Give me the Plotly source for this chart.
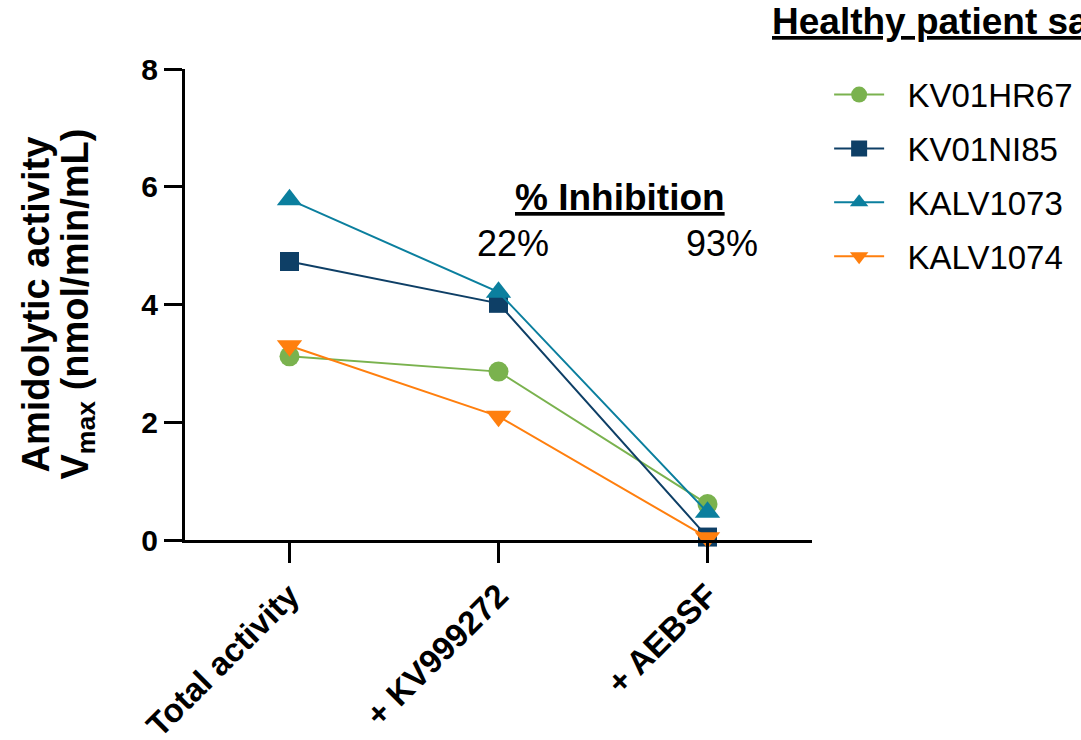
import plotly.graph_objects as go

categories = ["Total activity", "+ KV999272", "+ AEBSF"]
series_names = ["KV01HR67", "KV01NI85", "KALV1073", "KALV1074"]
kv01hr67 = [3.12, 2.86, 0.61]
kv01ni85 = [4.73, 4.02, 0.05]
kalv1073 = [5.78, 4.21, 0.47]
kalv1074 = [3.30, 2.10, 0.04]
inhibition_labels = ["22%", "93%"]

series_values = [kv01hr67, kv01ni85, kalv1073, kalv1074]
colors = ["#7ab24e", "#0e3f66", "#0b7f9e", "#ff7f0e"]
symbols = ["circle", "square", "triangle-up", "triangle-down"]
sizes = [20, 19, 22, 22]

FONT = "Arial, Liberation Sans, Helvetica, sans-serif"
xidx = list(range(len(categories)))

L, R, T, B = 185, 269, 69, 200
PW, PH = 1081 - L - R, 740 - T - B

def px_x(p):
    return (p - L) / PW

def px_y(p):
    return (740 - B - p) / PH

fig = go.Figure()
for i, (name, vals) in enumerate(zip(series_names, series_values)):
    fig.add_trace(go.Scatter(
        x=xidx, y=vals, name="\u00a0\u00a0" + name, mode="lines+markers",
        line=dict(color=colors[i], width=2),
        marker=dict(symbol=symbols[i], size=sizes[i], color=colors[i], line=dict(width=0)),
        cliponaxis=False, legendgroup=name,
    ))

fig.update_layout(
    width=1081, height=740,
    margin=dict(l=L, r=R, t=T, b=B, autoexpand=False),
    paper_bgcolor="white", plot_bgcolor="white",
    font=dict(family=FONT, color="black"),
    showlegend=True,
    legend=dict(
        xref="container", yref="container",
        x=0.767, y=0.910, xanchor="left", yanchor="top",
        font=dict(size=33, family=FONT, color="black"),
        itemwidth=50, tracegroupgap=8,
        bgcolor="rgba(0,0,0,0)",
    ),
    xaxis=dict(
        range=[-0.5, 2.5], automargin=False,
        tickmode="array", tickvals=xidx, ticktext=categories,
        tickangle=-45,
        tickfont=dict(size=33, family=FONT, color="black", weight="bold"),
        showline=True, linecolor="black", linewidth=3,
        ticks="outside", ticklen=20, tickwidth=3, tickcolor="black",
        showgrid=False, zeroline=False,
    ),
    yaxis=dict(
        range=[0, 8], automargin=False,
        tickvals=[0, 2, 4, 6, 8],
        tickfont=dict(size=30, family=FONT, color="black", weight="bold"),
        showline=True, linecolor="black", linewidth=3,
        ticks="outside", ticklen=18, tickwidth=3, tickcolor="black",
        showgrid=False, zeroline=False,
    ),
)

# y-axis title (two lines, tight spacing as in the reference)
fig.add_annotation(
    text="<b>Amidolytic activity</b>", textangle=-90,
    xref="paper", yref="paper", x=px_x(35), y=0.5,
    xanchor="center", yanchor="middle", showarrow=False,
    font=dict(size=38, family=FONT, color="black"),
)
fig.add_annotation(
    text="<b>V<sub>max</sub> (nmol/min/mL)</b>", textangle=-90,
    xref="paper", yref="paper", x=px_x(77), y=0.5,
    xanchor="center", yanchor="middle", showarrow=False,
    font=dict(size=38, family=FONT, color="black"),
)

fig.add_annotation(
    text="<b><u>Healthy patient samples</u></b>",
    xref="paper", yref="paper", x=px_x(770), y=px_y(21),
    xanchor="left", yanchor="middle", showarrow=False,
    font=dict(size=37, family=FONT, color="black"),
)
fig.add_annotation(
    text="<b><u>% Inhibition</u></b>",
    xref="x", yref="y", x=1.58, y=5.81,
    xanchor="center", yanchor="middle", showarrow=False,
    font=dict(size=37, family=FONT, color="black"),
)
for xi, lab in zip([1.07, 2.07], inhibition_labels):
    fig.add_annotation(
        text=lab, xref="x", yref="y", x=xi, y=5.04,
        xanchor="center", yanchor="middle", showarrow=False,
        font=dict(size=36, family=FONT, color="black"),
    )

fig.write_html("out.html", config={"displayModeBar": False},
               post_script="document.body.style.margin='0';")
